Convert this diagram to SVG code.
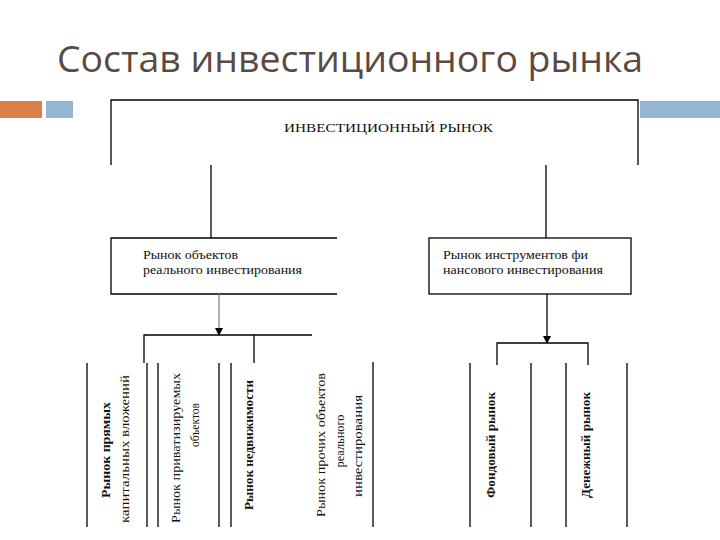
<svg xmlns="http://www.w3.org/2000/svg" width="720" height="540" viewBox="0 0 720 540">
<style>
.t{font-family:"Liberation Serif","Times New Roman",serif;font-size:12px;fill:#111}
.c{font-family:"Liberation Serif","Times New Roman",serif;font-size:13px;fill:#111;text-anchor:middle;dominant-baseline:central}
.ln{stroke:#000;stroke-width:1.3;fill:none}
.lg{stroke:#888;stroke-width:1.3;fill:none}
</style>
<defs>
<marker id="ah" markerWidth="8" markerHeight="8" refX="7" refY="4" orient="auto" markerUnits="userSpaceOnUse">
<path d="M0,0 L8,4 L0,8 Z" fill="#000"/>
</marker>
</defs>
<rect width="720" height="540" fill="#fff"/>
<text x="57" y="72" font-family="Open Sans, Noto Sans, sans-serif" font-size="36" fill="#5a4a44" textLength="586" lengthAdjust="spacingAndGlyphs">Состав инвестиционного рынка</text>
<rect x="0" y="101" width="42" height="17" fill="#DD8047"/>
<rect x="46" y="101" width="27" height="17" fill="#94B6D2"/>
<rect x="640" y="101" width="80" height="17" fill="#94B6D2"/>

<g id="top">
<path class="ln" d="M111,165 V100 H638 V165"/>
<text class="t" x="284" y="132" textLength="209" lengthAdjust="spacingAndGlyphs">ИНВЕСТИЦИОННЫЙ РЫНОК</text>
</g>
<g id="real">
<path class="ln" d="M337,238 H111 V294 H337"/>
<text class="t" x="143" y="259" textLength="95" lengthAdjust="spacingAndGlyphs">Рынок объектов</text>
<text class="t" x="143" y="274" textLength="159" lengthAdjust="spacingAndGlyphs">реального инвестирования</text>
</g>
<g id="fin">
<rect class="ln" x="429" y="238" width="202" height="56"/>
<text class="t" x="443" y="259" textLength="145" lengthAdjust="spacingAndGlyphs">Рынок инструментов фи</text>
<text class="t" x="443" y="274" textLength="160" lengthAdjust="spacingAndGlyphs">нансового инвестирования</text>
</g>

<g id="connectors">
<line class="ln" x1="211" y1="165" x2="211" y2="238"/>
<line class="ln" x1="546" y1="165" x2="546" y2="238"/>
<line class="lg" x1="219" y1="294" x2="219" y2="335" marker-end="url(#ah)"/>
<path class="ln" d="M144,363 V335 H312"/>
<line class="ln" x1="254" y1="335" x2="254" y2="363"/>
<line class="ln" x1="547" y1="294" x2="547" y2="343" marker-end="url(#ah)"/>
<path class="ln" d="M497,365 V343 H588 V365"/>
</g>

<g id="col1">
<line class="ln" x1="87" y1="363" x2="87" y2="527"/>
<line class="ln" x1="147" y1="363" x2="147" y2="527"/>
<text class="c" transform="translate(105,450) rotate(-90)" font-weight="bold" textLength="96" lengthAdjust="spacingAndGlyphs">Рынок прямых</text>
<text class="c" transform="translate(124,449) rotate(-90)" textLength="148" lengthAdjust="spacingAndGlyphs">капитальных вложений</text>
</g>
<g id="col2">
<line class="ln" x1="158" y1="363" x2="158" y2="527"/>
<line class="ln" x1="219" y1="363" x2="219" y2="527"/>
<text class="c" transform="translate(175,448) rotate(-90)" textLength="150" lengthAdjust="spacingAndGlyphs">Рынок приватизируемых</text>
<text class="c" transform="translate(194,425) rotate(-90)" textLength="44" lengthAdjust="spacingAndGlyphs">объектов</text>
</g>
<g id="col3">
<line class="ln" x1="231" y1="363" x2="231" y2="527"/>
<text class="c" transform="translate(248,445) rotate(-90)" font-weight="bold" textLength="130" lengthAdjust="spacingAndGlyphs">Рынок недвижимости</text>
</g>
<g id="col4">
<line class="ln" x1="373" y1="362" x2="373" y2="527"/>
<text class="c" transform="translate(320,445) rotate(-90)" textLength="144" lengthAdjust="spacingAndGlyphs">Рынок прочих объектов</text>
<text class="c" transform="translate(339,441) rotate(-90)" textLength="53" lengthAdjust="spacingAndGlyphs">реального</text>
<text class="c" transform="translate(357,446) rotate(-90)" textLength="102" lengthAdjust="spacingAndGlyphs">инвестирования</text>
</g>
<g id="col5">
<line class="ln" x1="470" y1="363" x2="470" y2="527"/>
<line class="ln" x1="531" y1="363" x2="531" y2="527"/>
<text class="c" transform="translate(490,445) rotate(-90)" font-weight="bold" textLength="106" lengthAdjust="spacingAndGlyphs">Фондовый рынок</text>
</g>
<g id="col6">
<line class="ln" x1="566" y1="363" x2="566" y2="527"/>
<line class="ln" x1="627" y1="363" x2="627" y2="527"/>
<text class="c" transform="translate(585,445) rotate(-90)" font-weight="bold" textLength="106" lengthAdjust="spacingAndGlyphs">Денежный рынок</text>
</g>
</svg>
